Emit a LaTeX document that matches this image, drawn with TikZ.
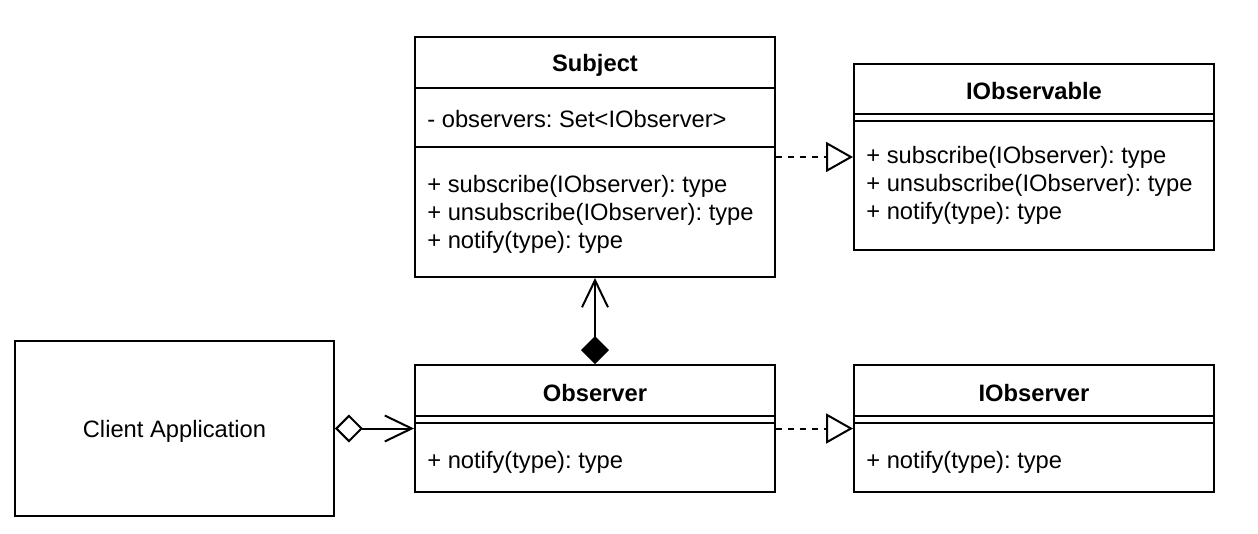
\documentclass[tikz,border=0pt]{standalone}
\usepackage{fontspec}
\setmainfont{Liberation Sans}
\frenchspacing
\usetikzlibrary{arrows.meta}
\tikzset{
  border/.style={draw, line width=0.04cm},
  classbox/.style={border, minimum width=7.2cm, inner sep=0pt},
  classname/.style={font=\fontsize{13.5pt}{15.9pt}\selectfont\bfseries, inner sep=0pt},
  members/.style={font=\fontsize{13.5pt}{15.9pt}\selectfont, align=left, anchor=west, inner sep=0pt},
  realize/.style={border, dash pattern=on 0.12cm off 0.12cm, -{Triangle[open, length=0.54cm, width=0.6cm]}},
  composition/.style={border, {Diamond[length=0.56cm, width=0.56cm]}-{Straight Barb[length=0.54cm, width=0.52cm]}},
  aggregation/.style={border, {Diamond[open, length=0.56cm, width=0.56cm]}-{Straight Barb[length=0.54cm, width=0.52cm]}}
}

\begin{document}
\begin{tikzpicture}[x=0.02cm, y=-0.02cm]
\useasboundingbox (0,0) rectangle (1258,534);

\node[classbox, minimum height=4.8cm] (subject) at (595,157) {};
\node[classbox, minimum height=3.72cm] (observable) at (1034,157) {};
\node[classbox, minimum height=2.54cm] (observer) at (595,428.5) {};
\node[classbox, minimum height=2.54cm] (iobserver) at (1034,428.5) {};
\node[classbox, minimum width=6.38cm, minimum height=3.5cm,
  font=\fontsize{13.5pt}{15.9pt}\selectfont, text depth=0pt] (client) at (174.5,428.5) {Client Application};

\foreach \c/\d in {subject/1.04, subject/2.22, observable/1.02, observable/1.16,
  observer/1.04, observer/1.18, iobserver/1.04, iobserver/1.18}
  \draw[border] ([yshift=-\d cm]\c.north west) -- ([yshift=-\d cm]\c.north east);

\node[classname] (subjectname) at (595,65.5) {Subject};
\node[members] (subjectattr) at (427,119) {- observers: Set<IObserver>};
\node[members] (subjectops) at (427,214) {+ subscribe(IObserver): type\\+ unsubscribe(IObserver): type\\+ notify(type): type};
\node[classname] (observablename) at (1034,91.5) {IObservable};
\node[members] (observableops) at (866,185) {+ subscribe(IObserver): type\\+ unsubscribe(IObserver): type\\+ notify(type): type};
\node[classname] (observername) at (595,393.5) {Observer};
\node[members] (observerops) at (427,462) {+ notify(type): type};
\node[classname] (iobservername) at (1034,393.5) {IObserver};
\node[members] (iobserverops) at (866,462) {+ notify(type): type};

\draw[realize] (subject.east) -- (observable.west);
\draw[realize] (observer.east) -- (iobserver.west);
\draw[composition] (observer.north) -- (subject.south);
\draw[aggregation] (client.east) -- (observer.west);

\end{tikzpicture}
\end{document}
